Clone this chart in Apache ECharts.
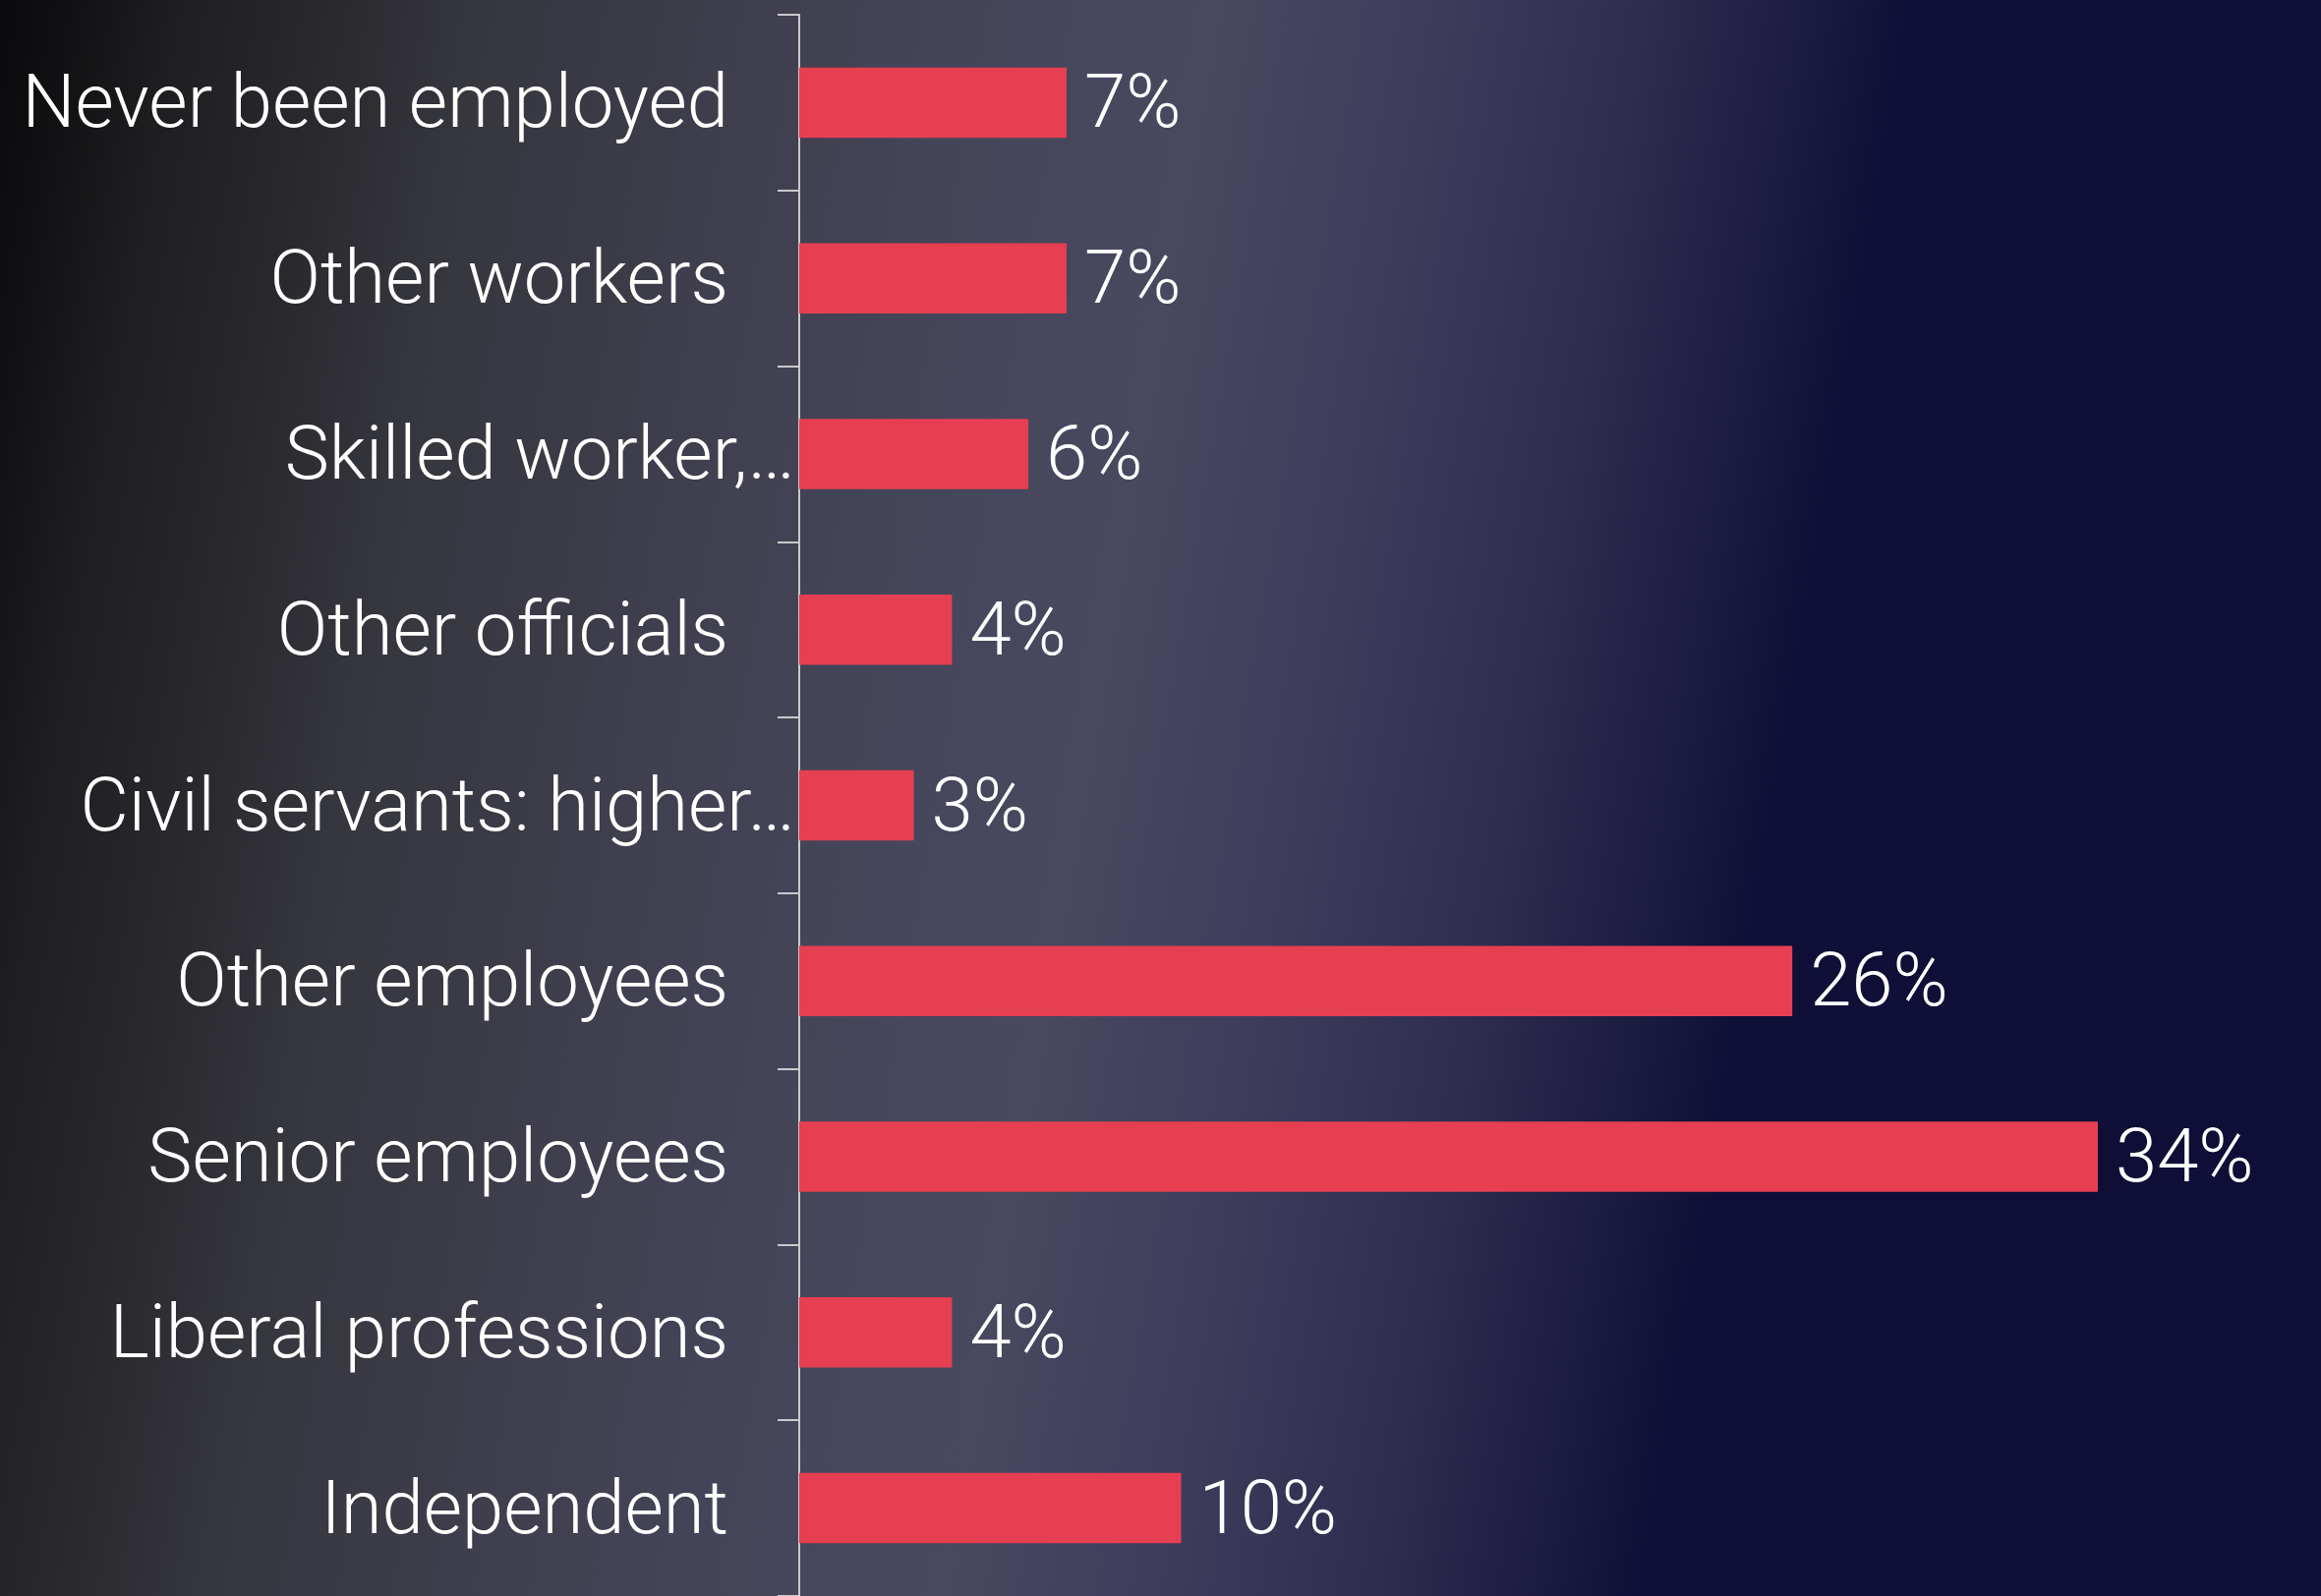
<!DOCTYPE html>
<html>
<head>
<meta charset="utf-8">
<title>Occupation breakdown</title>
<script src="https://cdn.jsdelivr.net/npm/echarts@6/dist/echarts.min.js"></script>
<style>
  html, body { margin: 0; padding: 0; background: #0f0e36; }
  #chart { width: 2361px; height: 1624px; }
</style>
</head>
<body>
<div id="chart"></div>
<script>
// Occupation groups, listed top to bottom
const categories = [
  'Never been employed',
  'Other workers',
  'Skilled worker,…',
  'Other officials',
  'Civil servants: higher…',
  'Other employees',
  'Senior employees',
  'Liberal professions',
  'Independent'
];

// Share of respondents in each group (%)
const shares = [7, 7, 6, 4, 3, 26, 34, 4, 10];

// Upper end of the horizontal value scale (%)
const X_MAX = 34;

const FONT = 'Roboto';

const chart = echarts.init(document.getElementById('chart'), null, { renderer: 'canvas' });

// Slightly tilted backdrop: near-black on the left, slate in the middle, deep navy on the right
const backdrop = new echarts.graphic.LinearGradient(0, 0, 2361, 401, [
  { offset: 0.000, color: '#0a0a0c' },
  { offset: 0.030, color: '#111113' },
  { offset: 0.076, color: '#1f1f22' },
  { offset: 0.150, color: '#2b2b30' },
  { offset: 0.200, color: '#36363e' },
  { offset: 0.336, color: '#404050' },
  { offset: 0.410, color: '#45455a' },
  { offset: 0.510, color: '#48485f' },
  { offset: 0.595, color: '#3e3d5c' },
  { offset: 0.690, color: '#2e2d50' },
  { offset: 0.758, color: '#1c1b40' },
  { offset: 0.800, color: '#100f37' },
  { offset: 1.000, color: '#0f0e36' }
], true);

const textStyle = { color: '#ffffff', fontFamily: FONT, fontWeight: 300, fontSize: 76 };

chart.setOption({
  backgroundColor: backdrop,
  animation: false,
  grid: { left: 813, right: 227, top: 15, bottom: -2, containLabel: false },
  xAxis: {
    type: 'value',
    min: 0,
    max: X_MAX,
    show: false
  },
  yAxis: {
    type: 'category',
    data: categories,
    inverse: true,
    axisLine: { show: true, lineStyle: { color: '#c9c9cc', width: 2 } },
    axisTick: { show: true, length: 22, lineStyle: { color: '#c9c9cc', width: 2 } },
    axisLabel: Object.assign({}, textStyle, {
      margin: 4,
      formatter: function (v) {
        return v.endsWith('…') ? '{cut|' + v + '}' : '{full|' + v + '}';
      },
      rich: {
        full: Object.assign({}, textStyle, { padding: [12, 68, 0, 0] }),
        cut: Object.assign({}, textStyle, { padding: [12, 0, 0, 0] })
      }
    }),
    splitLine: { show: false }
  },
  series: [{
    type: 'bar',
    data: shares,
    barWidth: '40%',
    itemStyle: { color: '#e63f51' },
    label: Object.assign({}, textStyle, {
      show: true,
      position: 'right',
      distance: 18,
      formatter: '{v|{c}%}',
      rich: {
        v: Object.assign({}, textStyle, { padding: [12, 0, 0, 0] })
      }
    })
  }]
});
</script>
</body>
</html>
